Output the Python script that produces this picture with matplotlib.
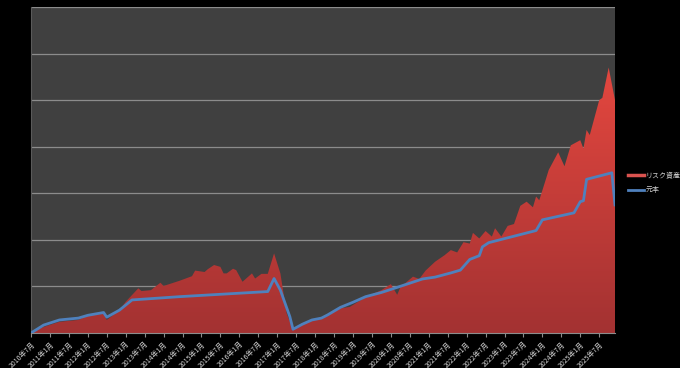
import numpy as np
import matplotlib
matplotlib.use('Agg')
import matplotlib.pyplot as plt
from matplotlib.colors import LinearSegmentedColormap

plt.rcParams['font.family'] = ['Noto Sans CJK JP', 'DejaVu Sans']

# months counted from 2010年7月 (0) to 2025年12月 (185)
risk_month = [0, 4, 9, 15, 18, 23, 24, 28, 30, 34, 35, 38, 41, 42, 47, 51, 52, 55,
              56, 58, 60, 61, 62, 64, 65, 67, 70, 71, 73, 75, 77, 79, 81, 83, 86,
              89, 92, 98, 101, 106, 111, 114, 116, 117, 121, 123, 125, 128, 131,
              133, 135, 137, 139, 140, 142, 144, 146, 147, 149, 151, 153, 155, 157,
              159, 160, 161, 163, 164, 167, 169, 171, 174, 175, 176, 177, 180, 181,
              183, 185]
risk_value = [2, 13, 24, 28, 38, 41, 28, 49, 67, 96, 90, 92, 108, 101, 112, 122, 134,
              131, 137, 146, 142, 128, 128, 138, 135, 110, 128, 117, 127, 127, 171,
              128, 42, 8, 21, 28, 34, 53, 56, 77, 92, 105, 82, 98, 121, 116, 134, 153,
              167, 178, 173, 195, 192, 215, 203, 219, 207, 225, 207, 230, 234, 273,
              282, 270, 293, 285, 328, 350, 388, 358, 403, 414, 396, 436, 425, 500,
              505, 570, 500]

base_month = [0, 4, 9, 15, 18, 23, 24, 28, 32, 47, 75, 77, 79, 82, 83, 86, 89, 92,
              94, 98, 102, 106, 111, 116, 120, 124, 128, 133, 136, 139, 142, 143,
              145, 160, 162, 172, 174, 175, 176, 184, 185]
base_value = [0, 17, 28, 32, 38, 44, 34, 49, 71, 78, 89, 117, 92, 35, 8, 19, 28, 32,
              39, 55, 66, 78, 87, 98, 107, 116, 120, 129, 135, 158, 166, 185, 194,
              220, 243, 258, 282, 284, 330, 344, 275]

tick_labels = []
for k in range(31):
    y = 2010 + (6 + 6 * k) // 12
    m = (6 + 6 * k) % 12 + 1
    tick_labels.append(f'{y}年{m}月')

fig = plt.figure(figsize=(6.8, 3.68), dpi=100)
fig.patch.set_facecolor('black')
ax = fig.add_axes([31 / 680, 35 / 368, 584 / 680, 326 / 368])
ax.set_facecolor('#404040')

# red area with a vertical gradient
poly = ax.fill_between(risk_month, risk_value, 0, color='none', zorder=2)
cmap = LinearSegmentedColormap.from_list('red', ['#a33232', '#e4473f'])
grad = np.linspace(0, 1, 256).reshape(-1, 1)
img = ax.imshow(grad, cmap=cmap, origin='lower', aspect='auto',
                extent=[0, 185, 0, max(risk_value)], zorder=2)
img.set_clip_path(poly.get_paths()[0], transform=ax.transData)
ax.plot([], [], color='#d9534f', lw=2.5, label='リスク資産')

ax.plot(base_month, base_value, color='#4f81bd', lw=2.0, zorder=3,
        solid_joinstyle='round', label='元本')

ax.set_xlim(0, 185)
ax.set_ylim(0, 700)
ax.set_yticks(range(0, 701, 100))
ax.yaxis.grid(True, color='#8c8c8c', lw=0.9)
ax.set_axisbelow(True)
ax.tick_params(axis='y', left=False, labelleft=False)

ax.set_xticks(range(0, 181, 6))
ax.set_xticklabels(tick_labels, rotation=45, ha='right', rotation_mode='anchor',
                   fontsize=5, color='#d0d0d0')
ax.tick_params(axis='x', colors='#8c8c8c', length=3, width=0.8, pad=2,
               labelcolor='#d0d0d0')

for s in ['top', 'right']:
    ax.spines[s].set_visible(False)
ax.spines['left'].set_color('#5a5a5a')
ax.spines['bottom'].set_color('#8c8c8c')

leg = fig.legend(loc='center left', bbox_to_anchor=(622 / 680, 1 - 183 / 368),
                 frameon=False, fontsize=5, labelcolor='#d0d0d0',
                 handlelength=2.2, handletextpad=0.3, labelspacing=0.9)

fig.savefig('out.png', dpi=100, facecolor='black')
